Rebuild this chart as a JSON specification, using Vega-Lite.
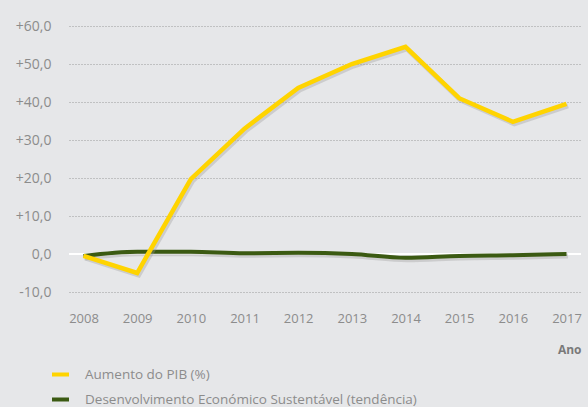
{
  "$schema": "https://vega.github.io/schema/vega-lite/v6.json",
  "width": 512,
  "height": 266,
  "padding": {"left": 15, "top": 19, "right": 6, "bottom": 4},
  "background": "#e6e7e9",
  "config": {
    "view": {"stroke": null},
    "font": "Open Sans",
    "axis": {"labelFont": "Open Sans", "titleFont": "Open Sans", "labelColor": "#8c8c8c", "titleColor": "#7a7a7a", "labelFontSize": 13}
  },
  "data": {
    "values": [
      {"ano": "2008", "serie": "Aumento do PIB (%)", "valor": -0.5},
      {"ano": "2009", "serie": "Aumento do PIB (%)", "valor": -5},
      {"ano": "2010", "serie": "Aumento do PIB (%)", "valor": 19.7},
      {"ano": "2011", "serie": "Aumento do PIB (%)", "valor": 33},
      {"ano": "2012", "serie": "Aumento do PIB (%)", "valor": 43.7},
      {"ano": "2013", "serie": "Aumento do PIB (%)", "valor": 50},
      {"ano": "2014", "serie": "Aumento do PIB (%)", "valor": 54.5},
      {"ano": "2015", "serie": "Aumento do PIB (%)", "valor": 41},
      {"ano": "2016", "serie": "Aumento do PIB (%)", "valor": 34.8},
      {"ano": "2017", "serie": "Aumento do PIB (%)", "valor": 39.5},
      {"ano": "2008", "serie": "Desenvolvimento Económico Sustentável (tendência)", "valor": -0.5},
      {"ano": "2009", "serie": "Desenvolvimento Económico Sustentável (tendência)", "valor": 0.6},
      {"ano": "2010", "serie": "Desenvolvimento Económico Sustentável (tendência)", "valor": 0.6},
      {"ano": "2011", "serie": "Desenvolvimento Económico Sustentável (tendência)", "valor": 0.2},
      {"ano": "2012", "serie": "Desenvolvimento Económico Sustentável (tendência)", "valor": 0.3},
      {"ano": "2013", "serie": "Desenvolvimento Económico Sustentável (tendência)", "valor": 0},
      {"ano": "2014", "serie": "Desenvolvimento Económico Sustentável (tendência)", "valor": -1},
      {"ano": "2015", "serie": "Desenvolvimento Económico Sustentável (tendência)", "valor": -0.5},
      {"ano": "2016", "serie": "Desenvolvimento Económico Sustentável (tendência)", "valor": -0.3},
      {"ano": "2017", "serie": "Desenvolvimento Económico Sustentável (tendência)", "valor": 0}
    ]
  },
  "encoding": {
    "x": {
      "field": "ano", "type": "ordinal",
      "scale": {"type": "point", "padding": 0.27},
      "axis": {"title": "Ano", "titleAnchor": "end", "titleFontWeight": "bold", "titleFontSize": 12, "titlePadding": 19, "labelAngle": 0, "domain": false, "ticks": false, "grid": false, "offset": 17, "labelPadding": 3}
    },
    "y": {
      "field": "valor", "type": "quantitative",
      "scale": {"domain": [-10, 60], "nice": false, "zero": false},
      "axis": {
        "title": null, "values": [-10, 0, 10, 20, 30, 40, 50, 60],
        "domain": false, "ticks": false, "labelPadding": 18, "labelFontSize": 14,
        "grid": true, "gridColor": "#9a9a9a", "gridDash": [1, 2], "gridWidth": 1,
        "labelExpr": "datum.value > 0 ? '+' + replace(format(datum.value, '.1f'), '.', ',') : (datum.value < 0 ? '-' + replace(format(-datum.value, '.1f'), '.', ',') : '0,0')"
      }
    }
  },
  "layer": [
    {
      "mark": {"type": "rule", "color": "#ffffff", "strokeWidth": 2},
      "encoding": {"y": {"datum": 0}, "x": null}
    },
    {
      "transform": [{"filter": "datum.serie !== 'Aumento do PIB (%)'"}],
      "mark": {"type": "line", "interpolate": "monotone", "strokeWidth": 5, "color": "#9a9a9a", "opacity": 0.35, "xOffset": 1.5, "yOffset": 2},
      "encoding": {}
    },
    {
      "transform": [{"filter": "datum.serie !== 'Aumento do PIB (%)'"}],
      "mark": {"type": "line", "interpolate": "monotone", "strokeWidth": 4},
      "encoding": {
        "color": {"field": "serie", "type": "nominal",
          "scale": {"domain": ["Aumento do PIB (%)", "Desenvolvimento Económico Sustentável (tendência)"], "range": ["#ffd400", "#3b5a12"]},
          "legend": {"title": null, "orient": "none", "legendX": -19, "legendY": 338, "direction": "vertical", "symbolType": "stroke", "symbolSize": 289, "symbolStrokeWidth": 4, "labelFontSize": 13.5, "labelColor": "#8c8c8c", "labelFont": "Open Sans", "labelLimit": 500, "rowPadding": 6, "labelOffset": 14}
        }
      }
    },
    {
      "transform": [{"filter": "datum.serie === 'Aumento do PIB (%)'"}],
      "mark": {"type": "line", "strokeWidth": 5, "color": "#9a9a9a", "opacity": 0.35, "xOffset": 1.5, "yOffset": 2},
      "encoding": {}
    },
    {
      "transform": [{"filter": "datum.serie === 'Aumento do PIB (%)'"}],
      "mark": {"type": "line", "strokeWidth": 4.5},
      "encoding": {"color": {"field": "serie", "type": "nominal"}}
    }
  ]
}
